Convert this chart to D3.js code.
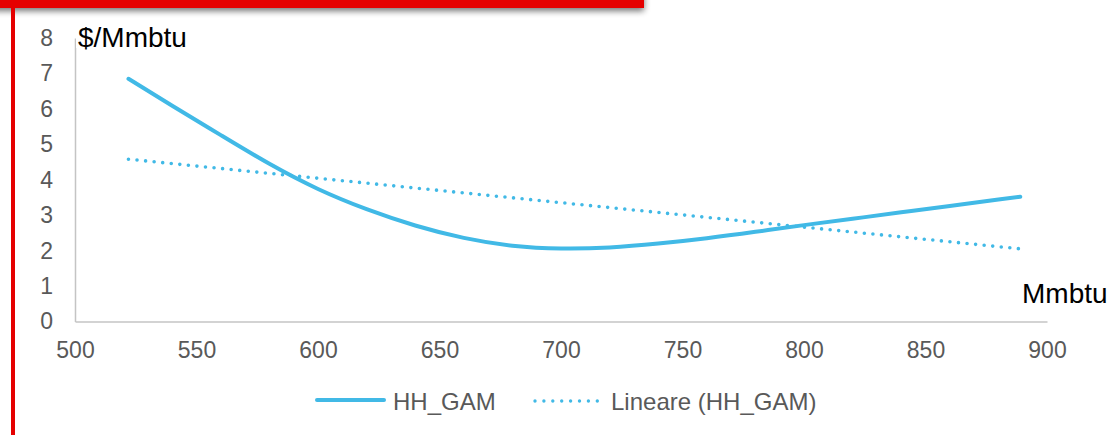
<!DOCTYPE html>
<html>
<head>
<meta charset="utf-8">
<script src="https://cdn.jsdelivr.net/npm/d3@7"></script>
<style>
  html, body { margin: 0; padding: 0; background: #fff; }
  svg { display: block; font-family: "Liberation Sans", Arial, sans-serif; }
</style>
</head>
<body>
<svg id="chart" width="1110" height="435"></svg>
<script>
// Gas price (HH_GAM) against volume, with its linear trend
const volumes = [522, 540, 560, 580, 600, 620, 640, 660, 680, 700, 720, 740, 760, 780, 800, 820, 840, 860, 880, 889];
const gamPrice = [6.85, 6.09, 5.26, 4.45, 3.74, 3.17, 2.71, 2.36, 2.14, 2.06, 2.09, 2.20, 2.35, 2.53, 2.72, 2.90, 3.08, 3.26, 3.44, 3.52];
const trendVolumes = [522, 889];
const trendPrice = [4.58, 2.05];
const xTicks = [500, 550, 600, 650, 700, 750, 800, 850, 900];
const yTicks = [0, 1, 2, 3, 4, 5, 6, 7, 8];
const seriesNames = ["HH_GAM", "Lineare (HH_GAM)"];
const yUnit = "$/Mmbtu";
const xUnit = "Mmbtu";

const blue = "#41b9e6";
const red = "#e50000";
const grey = "#595959";
const axisGrey = "#c4c4c4";

const svg = d3.select("#chart");

// slide decoration: red header bar with a soft shadow and the red side rule
const defs = svg.append("defs");
const shadow = defs.append("filter").attr("id", "barShadow")
  .attr("x", "-5%").attr("y", "-50%").attr("width", "110%").attr("height", "300%");
shadow.append("feGaussianBlur").attr("in", "SourceAlpha").attr("stdDeviation", 3).attr("result", "b");
shadow.append("feOffset").attr("in", "b").attr("dy", 3).attr("result", "o");
shadow.append("feComponentTransfer").attr("in", "o").attr("result", "s")
  .append("feFuncA").attr("type", "linear").attr("slope", 0.55);
const merge = shadow.append("feMerge");
merge.append("feMergeNode").attr("in", "s");
merge.append("feMergeNode").attr("in", "SourceGraphic");

svg.append("rect").attr("x", -10).attr("y", -10).attr("width", 654).attr("height", 18)
  .attr("fill", red).attr("filter", "url(#barShadow)");
svg.append("rect").attr("x", 11).attr("y", 0).attr("width", 4).attr("height", 435).attr("fill", red);

const x = d3.scaleLinear().domain([500, 900]).range([75, 1047]);
const y = d3.scaleLinear().domain([0, 8]).range([321.5, 38]);

// axes
const gx = svg.append("g").attr("transform", `translate(0,${y(0)})`)
  .call(d3.axisBottom(x).tickValues(xTicks).tickSize(0).tickPadding(20).tickFormat(d3.format("d")));
const gy = svg.append("g").attr("transform", `translate(${x(500)},0)`)
  .call(d3.axisLeft(y).tickValues(yTicks).tickSize(0).tickPadding(22).tickFormat(d3.format("d")));
[gx, gy].forEach(g => {
  g.select(".domain").attr("stroke", axisGrey).attr("stroke-width", 1.5);
  g.selectAll("text").attr("fill", grey).attr("font-size", 23)
    .attr("font-family", "'Liberation Sans', Arial, sans-serif");
});

// series
const gamPts = volumes.map((v, i) => [v, gamPrice[i]]);
const trendPts = trendVolumes.map((v, i) => [v, trendPrice[i]]);

svg.append("path").datum(gamPts)
  .attr("d", d3.line().x(d => x(d[0])).y(d => y(d[1])).curve(d3.curveNatural))
  .attr("fill", "none").attr("stroke", blue).attr("stroke-width", 4)
  .attr("stroke-linecap", "round");

svg.append("path").datum(trendPts)
  .attr("d", d3.line().x(d => x(d[0])).y(d => y(d[1])))
  .attr("fill", "none").attr("stroke", blue).attr("stroke-width", 3.6)
  .attr("stroke-linecap", "round").attr("stroke-dasharray", "0 8.6");

// axis unit labels
const yLab = svg.append("g");
yLab.append("rect").attr("x", 76).attr("y", 22).attr("width", 122).attr("height", 26).attr("fill", "#fff");
yLab.append("text").attr("x", 78).attr("y", 47).attr("font-size", 28).attr("fill", "#000").text(yUnit);
svg.append("text").attr("x", 1022).attr("y", 303).attr("font-size", 28).attr("fill", "#000").text(xUnit);

// legend
const legend = svg.append("g").attr("font-size", 24).attr("fill", grey);
legend.append("line").attr("x1", 317).attr("x2", 384).attr("y1", 400).attr("y2", 400)
  .attr("stroke", blue).attr("stroke-width", 4).attr("stroke-linecap", "round");
legend.append("text").attr("x", 393).attr("y", 410).text(seriesNames[0]);
legend.append("line").attr("x1", 535).attr("x2", 598).attr("y1", 401).attr("y2", 401)
  .attr("stroke", blue).attr("stroke-width", 3.4).attr("stroke-linecap", "round")
  .attr("stroke-dasharray", "0 8.9");
legend.append("text").attr("x", 611).attr("y", 410).text(seriesNames[1]);
</script>
</body>
</html>
